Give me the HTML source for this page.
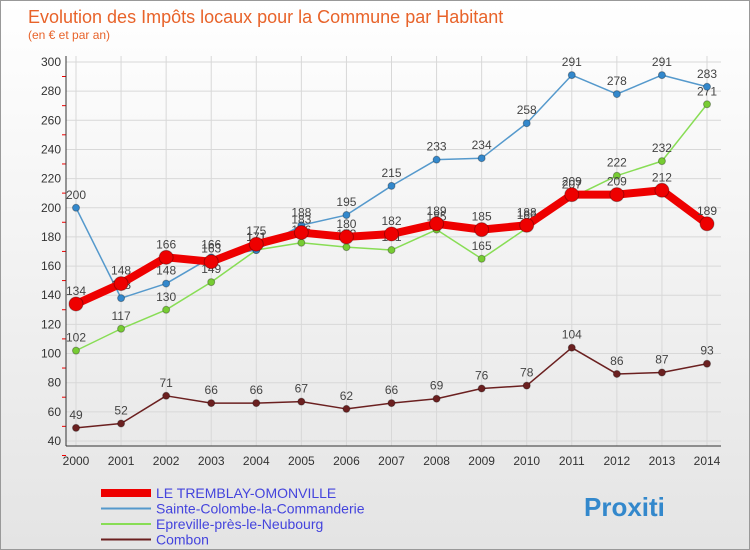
<!DOCTYPE html>
<html><head><meta charset="utf-8"><style>
body{margin:0}
#c{width:750px;height:550px;position:relative;font-family:"Liberation Sans",sans-serif;background:linear-gradient(#ffffff,#e4e4e4);border:1px solid #999;box-sizing:border-box;overflow:hidden}
</style></head><body>
<div id="c">
<svg id="s" width="750" height="550"></svg>
</div>
<script>
const years=[2000,2001,2002,2003,2004,2005,2006,2007,2008,2009,2010,2011,2012,2013,2014];
const tremblay=[134,148,166,163,175,183,180,182,189,185,188,209,209,212,189];
const sainte=[200,138,148,166,171,188,195,215,233,234,258,291,278,291,283];
const epreville=[102,117,130,149,171,176,173,171,185,165,186,207,222,232,271];
const combon=[49,52,71,66,66,67,62,66,69,76,78,104,86,87,93];
const yTicks=[40,60,80,100,120,140,160,180,200,220,240,260,280,300];
const NS='http://www.w3.org/2000/svg';
const s=document.getElementById('s');
const X=i=>75+i*(706-75)/14;
const Y=v=>440-(v-40)*(440-61)/260;
function el(t,a,p){const e=document.createElementNS(NS,t);for(const k in a)e.setAttribute(k,a[k]);(p||s).appendChild(e);return e;}
function tx(x,y,str,a){const e=el('text',Object.assign({x:x,y:y},a));e.textContent=str;return e;}
let t=tx(27,22,'Evolution des Impôts locaux pour la Commune par Habitant',{fill:'#e8632a','font-size':18});

t=tx(27,38,'(en € et par an)',{fill:'#e8632a','font-size':12});

// grid
yTicks.forEach(v=>{
 const g=el('line',{x1:65,x2:720,y1:Y(v),y2:Y(v),stroke:'#d8d8d8','stroke-width':1});
 
 const l=tx(60,Y(v)+4,v,{'text-anchor':'end','font-size':12,fill:'#333'});
 
 el('line',{x1:61,x2:65,y1:Y(v)+14.5,y2:Y(v)+14.5,stroke:'#e00'});
});
years.forEach((y,i)=>{
 const g=el('line',{x1:X(i),x2:X(i),y1:55,y2:445,stroke:'#d8d8d8'});
 
 const l=tx(X(i),464,y,{'text-anchor':'middle','font-size':12,fill:'#333'});
 
});
el('line',{x1:65,x2:65,y1:55,y2:445,stroke:'#333'});
el('line',{x1:65,x2:720,y1:445,y2:445,stroke:'#333'});
function series(data,color,dot,w,r,name){
 const g=el('g',{});
 el('polyline',{points:data.map((v,i)=>X(i)+','+Y(v)).join(' '),fill:'none',stroke:color,'stroke-width':w,'stroke-linejoin':'round'},g);
 data.forEach((v,i)=>{const c=el('circle',{cx:X(i),cy:Y(v),r:r,fill:dot,stroke:'rgba(0,0,0,0.3)'},g);
  
  const l=tx(X(i),Y(v)-9,v,{'text-anchor':'middle','font-size':12,fill:'#444'},g);
  });
}
series(combon,'#6b2020','#6b2020',1.5,3.5,'combon-series');
series(epreville,'#88dd55','#77cc33',1.5,3.5,'epreville-series');
series(sainte,'#5599cc','#3388cc',1.5,3.5,'sainte-series');
series(tremblay,'#ee0000','#ee0000',8,7,'tremblay-series');
// legend
const leg=[['LE TREMBLAY-OMONVILLE','#ee0000',8],['Sainte-Colombe-la-Commanderie','#5599cc',2],['Epreville-près-le-Neubourg','#88dd55',2],['Combon','#6b2020',2]];
leg.forEach((e,i)=>{const y=492+i*15.5;
 const g=el('g',{});
 el('line',{x1:100,x2:150,y1:y,y2:y,stroke:e[1],'stroke-width':e[2]},g);
 tx(155,y+5,e[0],{'font-size':14,fill:'#4444dd'},g);});
t=tx(583,515,'Proxiti',{'font-size':26,'font-weight':'bold',fill:'#3388cc'});

</script>
</body></html>
